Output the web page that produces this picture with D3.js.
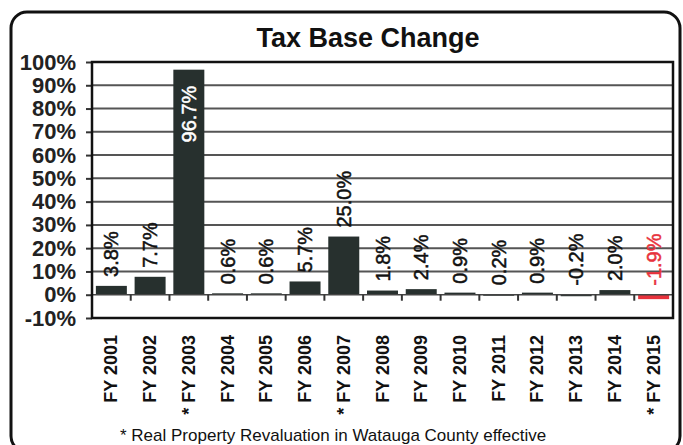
<!DOCTYPE html>
<html><head><meta charset="utf-8">
<script src="https://cdn.jsdelivr.net/npm/d3@7"></script>
<style>body{margin:0;background:#fff;}svg{display:block;font-family:"Liberation Sans",Arial,sans-serif;}</style>
</head><body>
<svg id="c" width="683" height="445"></svg>
<script>
const categories = ["FY 2001","FY 2002","* FY 2003","FY 2004","FY 2005","FY 2006","* FY 2007","FY 2008","FY 2009","FY 2010","FY 2011","FY 2012","FY 2013","FY 2014","* FY 2015"];
const values = [3.8, 7.7, 96.7, 0.6, 0.6, 5.7, 25.0, 1.8, 2.4, 0.9, 0.2, 0.9, -0.2, 2.0, -1.9];
const valueLabels = ["3.8%","7.7%","96.7%","0.6%","0.6%","5.7%","25.0%","1.8%","2.4%","0.9%","0.2%","0.9%","-0.2%","2.0%","-1.9%"];
const yTicks = [-10,0,10,20,30,40,50,60,70,80,90,100];
const title = "Tax Base Change";
const footnote = "* Real Property Revaluation in Watauga County effective";

const svg = d3.select("#c");
const L = 92, R = 673, T = 62, B = 318;
const x = d3.scaleBand().domain(categories).range([L, R]).paddingInner(0.2).paddingOuter(0.1);
const y = d3.scaleLinear().domain([-10, 100]).range([B, T]);

// outer rounded frame
svg.append("rect").attr("x", 11).attr("y", 12).attr("width", 669).attr("height", 440)
  .attr("rx", 16).attr("fill", "none").attr("stroke", "#111").attr("stroke-width", 3);

svg.append("text").attr("x", 368).attr("y", 47).attr("text-anchor", "middle")
  .attr("font-size", 27).attr("font-weight", "bold").attr("fill", "#111").text(title);

// gridlines
svg.append("g").selectAll("line").data(yTicks.filter(d => d !== 0 && d !== -10 && d !== 100)).join("line")
  .attr("x1", L).attr("x2", R).attr("y1", d => y(d)).attr("y2", d => y(d))
  .attr("stroke", "#555").attr("stroke-width", 2);

// y axis
const yAxis = d3.axisLeft(y).tickValues(yTicks).tickFormat(d => d + "%").tickSize(6).tickPadding(10);
const ya = svg.append("g").attr("transform", `translate(${L},0)`).call(yAxis);
ya.select(".domain").remove();
ya.selectAll(".tick line").attr("stroke", "#333").attr("stroke-width", 2);
ya.selectAll(".tick text").attr("font-size", 22).attr("font-weight", "bold").attr("fill", "#222")
  .attr("font-family", "Liberation Sans, Arial, sans-serif");

// bars
svg.append("g").selectAll("rect").data(values).join("rect")
  .attr("x", (d, i) => x(categories[i]))
  .attr("width", x.bandwidth())
  .attr("y", d => y(Math.max(0, d)))
  .attr("height", d => Math.max(1.5, Math.abs(y(d) - y(0))))
  .attr("fill", d => d < -1 ? "#e8323c" : "#27302e");

// zero line with ticks
svg.append("line").attr("x1", L).attr("x2", R).attr("y1", y(0)).attr("y2", y(0))
  .attr("stroke", "#444").attr("stroke-width", 1.5);
const step = x.step();
const tickXs = categories.slice(1).map(c => x(c) - step * x.paddingInner() / 2);
svg.append("g").selectAll("line").data(tickXs).join("line")
  .attr("x1", d => d).attr("x2", d => d).attr("y1", y(0)).attr("y2", y(0) + 6)
  .attr("stroke", "#333").attr("stroke-width", 2);

// plot border
svg.append("rect").attr("x", L).attr("y", T).attr("width", R - L).attr("height", B - T)
  .attr("fill", "none").attr("stroke", "#111").attr("stroke-width", 2.5);

// value labels
svg.append("g").selectAll("text").data(values).join("text")
  .attr("transform", (d, i) => {
    const cx = x(categories[i]) + x.bandwidth() / 2 + 7;
    const yy = d > 50 ? y(d) + 16 : y(Math.max(0, d)) - 9;
    return `translate(${cx},${yy}) rotate(-90)`;
  })
  .attr("text-anchor", d => d > 50 ? "end" : "start")
  .attr("font-size", 20)
  .attr("fill", d => d > 50 ? "#fff" : (d < -1 ? "#e8323c" : "#111"))
  .attr("stroke", d => d > 50 ? "#fff" : (d < -1 ? "#e8323c" : "#111"))
  .attr("stroke-width", 0.5)
  .text((d, i) => valueLabels[i]);

// category labels
svg.append("g").selectAll("text").data(categories).join("text")
  .attr("transform", c => `translate(${x(c) + x.bandwidth() / 2 + 6},${B + 17}) rotate(-90)`)
  .attr("text-anchor", "end")
  .attr("font-size", 18).attr("font-weight", "bold").attr("fill", "#111")
  .text(c => c);

svg.append("text").attr("x", 120).attr("y", 441).attr("font-size", 17).attr("fill", "#111").text(footnote);
</script>
</body></html>
